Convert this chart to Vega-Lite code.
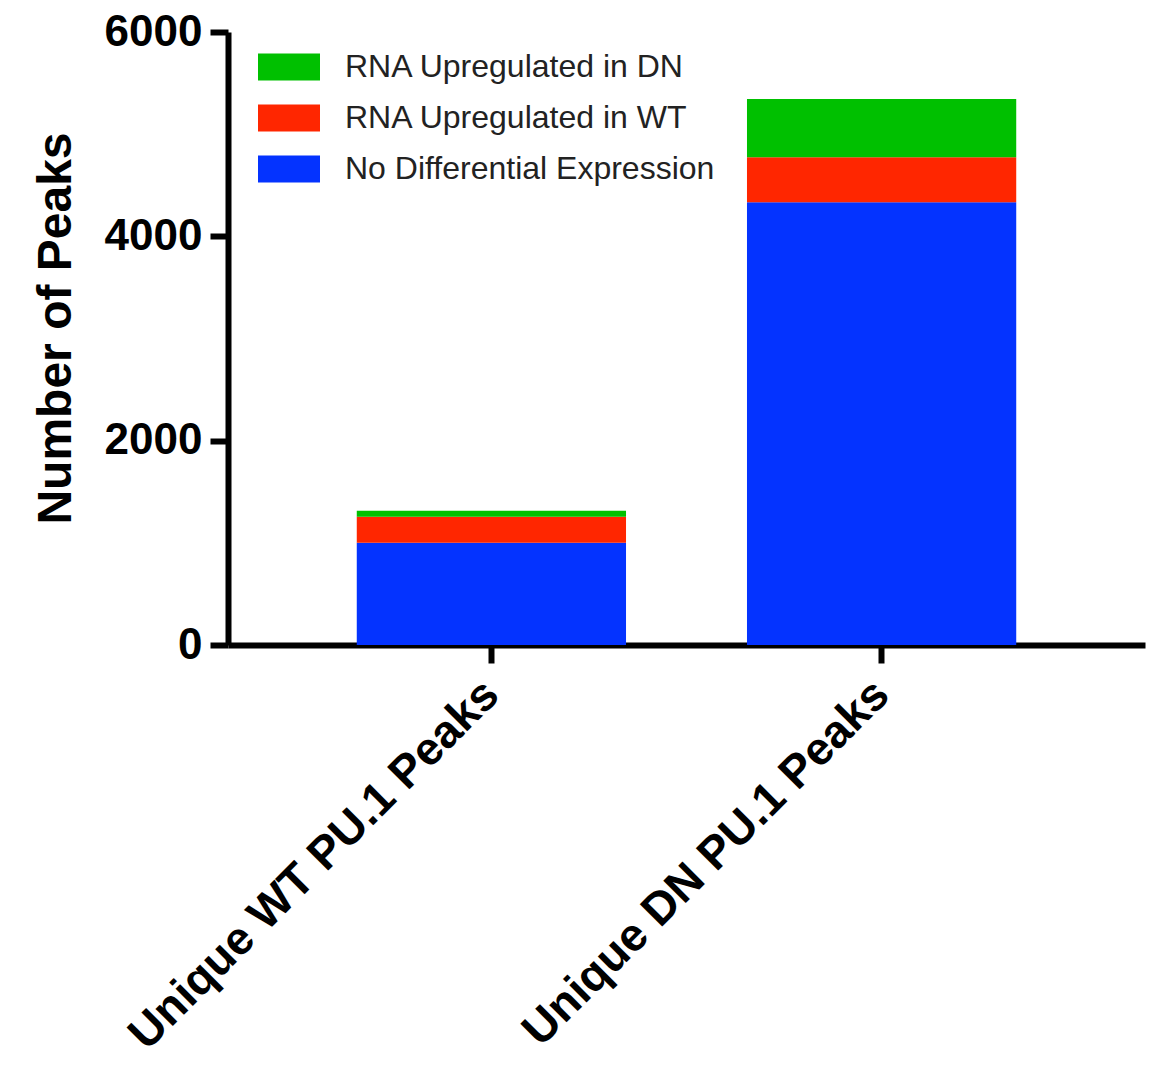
{
  "$schema": "https://vega.github.io/schema/vega-lite/v6.json",
  "width": 917,
  "height": 613,
  "autosize": {"type": "none"},
  "padding": {"left": 228, "top": 32, "right": 24, "bottom": 423},
  "background": "white",
  "config": {
    "view": {"stroke": null},
    "font": "Liberation Sans"
  },
  "data": {
    "values": [
      {"group": "Unique WT PU.1 Peaks", "category": "No Differential Expression", "order": 1, "peaks": 1000},
      {"group": "Unique WT PU.1 Peaks", "category": "RNA Upregulated in WT", "order": 2, "peaks": 255},
      {"group": "Unique WT PU.1 Peaks", "category": "RNA Upregulated in DN", "order": 3, "peaks": 60},
      {"group": "Unique DN PU.1 Peaks", "category": "No Differential Expression", "order": 1, "peaks": 4333},
      {"group": "Unique DN PU.1 Peaks", "category": "RNA Upregulated in WT", "order": 2, "peaks": 442},
      {"group": "Unique DN PU.1 Peaks", "category": "RNA Upregulated in DN", "order": 3, "peaks": 568}
    ]
  },
  "mark": {"type": "bar"},
  "encoding": {
    "x": {
      "field": "group",
      "type": "nominal",
      "sort": ["Unique WT PU.1 Peaks", "Unique DN PU.1 Peaks"],
      "scale": {"paddingInner": 0.31, "paddingOuter": 0.33},
      "axis": {
        "title": null,
        "labelAngle": -45,
        "labelAlign": "right",
        "labelBaseline": "middle",
        "labelFontSize": 46,
        "labelFontWeight": "bold",
        "labelColor": "black",
        "labelPadding": 24,
        "labelLimit": 800,
        "domainColor": "black",
        "domainWidth": 6,
        "tickColor": "black",
        "tickWidth": 6,
        "tickSize": 18,
        "grid": false
      }
    },
    "y": {
      "field": "peaks",
      "type": "quantitative",
      "stack": "zero",
      "scale": {"domain": [0, 6000], "nice": false},
      "axis": {
        "title": "Number of Peaks",
        "titleFontSize": 48,
        "titleFontWeight": "bold",
        "titleColor": "black",
        "titlePadding": 24,
        "titleY": 296,
        "values": [0, 2000, 4000, 6000],
        "format": "d",
        "labelFontSize": 44,
        "labelFontWeight": "bold",
        "labelColor": "black",
        "labelPadding": 8,
        "domainColor": "black",
        "domainWidth": 6,
        "tickColor": "black",
        "tickWidth": 6,
        "tickSize": 18,
        "grid": false
      }
    },
    "color": {
      "field": "category",
      "type": "nominal",
      "scale": {
        "domain": ["RNA Upregulated in DN", "RNA Upregulated in WT", "No Differential Expression"],
        "range": ["#00C000", "#FF2600", "#0433FF"]
      },
      "legend": {
        "title": null,
        "orient": "none",
        "legendX": 30,
        "legendY": 4,
        "symbolType": "M-1,-0.435H1V0.435H-1Z",
        "symbolSize": 3844,
        "symbolStrokeWidth": 0,
        "labelFontSize": 32,
        "labelColor": "#222222",
        "labelOffset": 25,
        "rowPadding": 4,
        "labelLimit": 600
      }
    },
    "order": {"field": "order", "type": "quantitative"}
  }
}
